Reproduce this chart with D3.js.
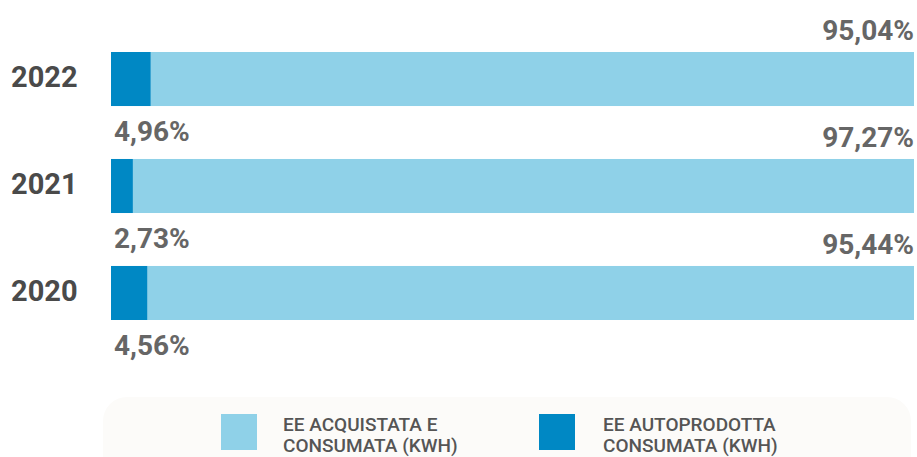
<!DOCTYPE html>
<html lang="it">
<head>
<meta charset="UTF-8">
<title>EE</title>
<style>
  body { margin:0; background:#fff; }
  svg { display:block; font-family: Roboto, "Open Sans", sans-serif; }
</style>
</head>
<body>
<svg id="chart" width="917" height="457"></svg>
<script src="https://cdnjs.cloudflare.com/ajax/libs/d3/7.8.5/d3.min.js"></script>
<script>
// data
const years = ["2022", "2021", "2020"];
const acquistata = [95.04, 97.27, 95.44];
const autoprodotta = [4.96, 2.73, 4.56];
const seriesNames = [["EE ACQUISTATA E", "CONSUMATA (KWH)"], ["EE AUTOPRODOTTA", "CONSUMATA (KWH)"]];

const colLight = "#8fd1e8";
const colDark = "#0088c4";
const fmt = v => v.toFixed(2).replace(".", ",") + "%";

const svg = d3.select("#chart");

const x = d3.scaleLinear().domain([0, 100]).range([111, 914]);
const y = d3.scaleBand().domain(years).range([52, 320]).paddingInner(0.495).paddingOuter(0);

const rows = years.map((yr, i) => ({ year: yr, auto: autoprodotta[i], acq: acquistata[i] }));

const g = svg.append("g");

// dark segment first (left), then light
g.selectAll("rect.dark").data(rows).join("rect")
  .attr("class", "dark")
  .attr("x", x(0))
  .attr("y", d => y(d.year))
  .attr("width", d => x(d.auto) - x(0))
  .attr("height", y.bandwidth())
  .attr("fill", colDark);

g.selectAll("rect.light").data(rows).join("rect")
  .attr("class", "light")
  .attr("x", d => x(d.auto))
  .attr("y", d => y(d.year))
  .attr("width", d => x(d.auto + d.acq) - x(d.auto))
  .attr("height", y.bandwidth())
  .attr("fill", colLight);

// year labels
g.selectAll("text.year").data(rows).join("text")
  .attr("class", "year")
  .attr("x", 11)
  .attr("y", d => y(d.year) + 35)
  .attr("font-size", 29)
  .attr("font-weight", 700)
  .attr("fill", "#4a4a4a")
  .text(d => d.year);

// value labels
g.selectAll("text.acq").data(rows).join("text")
  .attr("class", "acq")
  .attr("x", x(100))
  .attr("y", d => y(d.year) - 12)
  .attr("text-anchor", "end")
  .attr("font-size", 28)
  .attr("font-weight", 700)
  .attr("fill", "#666")
  .text(d => fmt(d.acq));

g.selectAll("text.auto").data(rows).join("text")
  .attr("class", "auto")
  .attr("x", 114)
  .attr("y", d => y(d.year) + y.bandwidth() + 35)
  .attr("font-size", 28)
  .attr("font-weight", 700)
  .attr("fill", "#666")
  .text(d => fmt(d.auto));

// legend
const leg = svg.append("g");
leg.append("rect")
  .attr("x", 103).attr("y", 397)
  .attr("width", 808).attr("height", 90)
  .attr("rx", 24)
  .attr("fill", "#fcfbf9");

const legItems = [
  { color: colLight, lines: seriesNames[0], sx: 221, tx: 283 },
  { color: colDark, lines: seriesNames[1], sx: 539, tx: 603 }
];
legItems.forEach(it => {
  leg.append("rect")
    .attr("x", it.sx).attr("y", 414)
    .attr("width", 36).attr("height", 36)
    .attr("fill", it.color);
  const t = leg.append("text")
    .attr("x", it.tx).attr("y", 431)
    .attr("font-size", 19)
    .attr("font-weight", 500)
    .attr("fill", "#555");
  it.lines.forEach((ln, k) => {
    t.append("tspan").attr("x", it.tx).attr("y", 431 + k * 21).text(ln);
  });
});
</script>
</body>
</html>
